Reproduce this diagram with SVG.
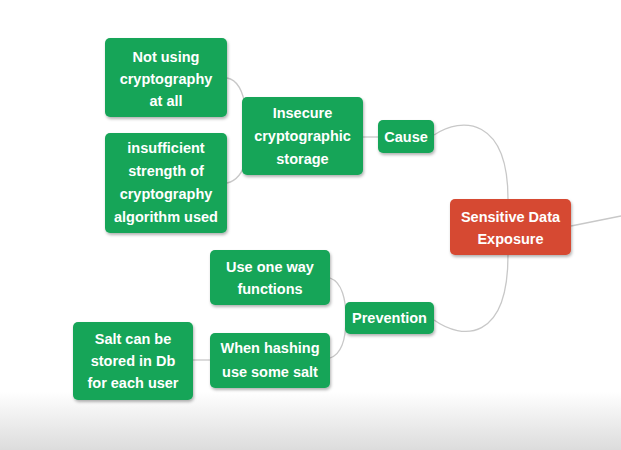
<svg xmlns="http://www.w3.org/2000/svg" width="621" height="450" viewBox="0 0 621 450">
<defs>
<linearGradient id="bg" x1="0" y1="0" x2="0" y2="1">
<stop offset="0" stop-color="#ffffff"/>
<stop offset="0.87" stop-color="#ffffff"/>
<stop offset="1" stop-color="#dcdcdc"/>
</linearGradient>
<filter id="sh" x="-10%" y="-10%" width="130%" height="140%">
<feDropShadow dx="1" dy="2" stdDeviation="1.5" flood-color="#000" flood-opacity="0.3"/>
</filter>
<style>
.g{fill:#18a558;filter:url(#sh)}
.r{fill:#d64a33;filter:url(#sh)}
text{font-family:"Liberation Sans",Arial,sans-serif;font-weight:bold;font-size:14.5px;fill:#fff;text-anchor:middle}
.c path,.c line{fill:none;stroke:#c8c8c8;stroke-width:1.3}
</style>
</defs>
<rect width="621" height="450" fill="url(#bg)"/>
<g class="c" id="connectors">
<path d="M434,135 C462,116 508,118 508,199"/>
<path d="M508,255 C508,342 462,340 434,320"/>
<line x1="571" y1="226" x2="621" y2="216"/>
<line x1="363" y1="137" x2="378" y2="137"/>
<path d="M227,78 C240,80 244,96 246,110"/>
<path d="M227,183 C240,180 244,168 246,160"/>
<path d="M330,278 C342,282 346,300 346,318"/>
<path d="M330,358 C342,354 346,338 346,318"/>
<line x1="193" y1="360" x2="210" y2="360"/>
</g>
<g id="n-root"><rect class="r" x="450" y="199" width="121" height="56" rx="5"/><text x="510.5" y="222">Sensitive Data</text><text x="510.5" y="244">Exposure</text></g>
<g id="n-cause"><rect class="g" x="378" y="120" width="56" height="33" rx="5"/><text x="406" y="142">Cause</text></g>
<g id="n-prevention"><rect class="g" x="345" y="302" width="89" height="32" rx="5"/><text x="389.5" y="323">Prevention</text></g>
<g id="n-insecure"><rect class="g" x="242" y="97" width="121" height="78" rx="5"/><text x="302.5" y="118">Insecure</text><text x="302.5" y="141">cryptographic</text><text x="302.5" y="164">storage</text></g>
<g id="n-notusing"><rect class="g" x="105" y="38" width="122" height="79" rx="5"/><text x="166" y="62">Not using</text><text x="166" y="84">cryptography</text><text x="166" y="106">at all</text></g>
<g id="n-insufficient"><rect class="g" x="105" y="133" width="122" height="100" rx="5"/><text x="166" y="153">insufficient</text><text x="166" y="176">strength of</text><text x="166" y="199">cryptography</text><text x="166" y="222">algorithm used</text></g>
<g id="n-oneway"><rect class="g" x="210" y="250" width="120" height="55" rx="5"/><text x="270" y="272">Use one way</text><text x="270" y="294">functions</text></g>
<g id="n-hashing"><rect class="g" x="210" y="333" width="120" height="55" rx="5"/><text x="270" y="353">When hashing</text><text x="270" y="377">use some salt</text></g>
<g id="n-salt"><rect class="g" x="73" y="322" width="120" height="78" rx="5"/><text x="133" y="344">Salt can be</text><text x="133" y="366">stored in Db</text><text x="133" y="388">for each user</text></g>
</svg>
